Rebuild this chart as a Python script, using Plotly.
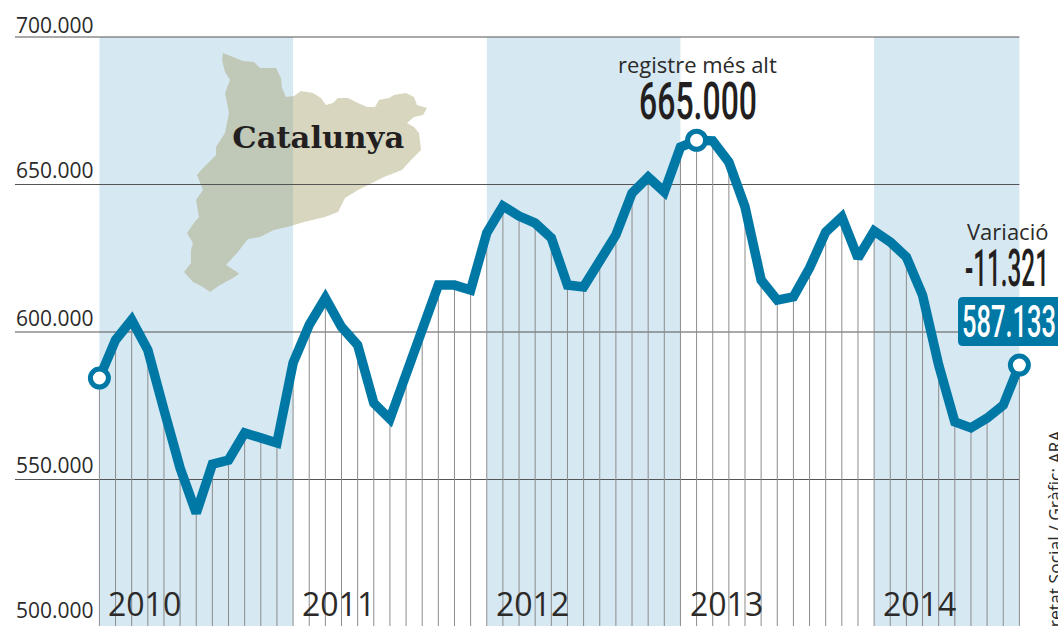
import json
import plotly.graph_objects as go

W, H = 1058, 626
years = ["2010", "2011", "2012", "2013", "2014"]
year_label_index = [0.5, 12.5, 24.5, 36.5, 48.5]
band_spans = [(0, 12), (24, 36), (48, 57)]
y_ticks = [700000, 650000, 600000, 550000, 500000]
y_tick_labels = ["700.000", "650.000", "600.000", "550.000", "500.000"]
y_tick_label_px = [25, 170, 318, 465, 610]
values = [584400, 597300, 604100, 593900, 573600, 553900, 538600, 555200, 556600, 565800,
          564100, 562400, 589500, 602400, 611500, 601700, 595600, 575900, 570500, 586100,
          600700, 615900, 615900, 614200, 633600, 642700, 639300, 636900, 631900, 615900,
          615300, 623400, 632900, 647100, 652500, 647500, 662700, 665000, 664800, 657600,
          642400, 617600, 610800, 611900, 621700, 633900, 639000, 625100, 634200, 630500,
          625400, 612500, 588800, 569500, 567500, 570800, 575200, 588800]
months = list(range(len(values)))
peak_index = 37

map_outline_px = [(223,53),(233,57),(243,61),(254,62),(260,68),(276,68),(281,78),(282,88),(286,97),(294,96),
    (301,91),(313,93),(321,98),(326,105),(333,103),(338,98),(348,98),(358,103),(367,107),(375,107),
    (379,100),(389,98),(394,95),(406,93),(414,97),(417,105),(427,108),(423,115),(414,117),(407,123),
    (414,127),(419,133),(421,150),(411,160),(402,170),(384,177),(372,183),(358,190),(345,198),(338,212),
    (325,217),(304,222),(291,226),(274,230),(260,237),(248,239),(237,253),(226,265),(237,272),(239,274),
    (233,278),(220,285),(210,292),(203,287),(193,282),(184,272),(191,263),(191,250),(193,243),(187,233),
    (194,223),(199,217),(196,200),(203,190),(197,175),(203,168),(216,155),(216,147),(225,133),(229,113),
    (225,93),(230,80),(225,72),(222,60)]

# axes span the whole canvas
X0 = 99.4
DX = 16.14
DY = 147.5 / 50000
x_range = [-X0 / DX, (W - X0) / DX]
y_range = [700000 - (H - 37) / DY, 700000 + 37 / DY]
to_x = lambda px: (px - X0) / DX
to_y = lambda py: 700000 - (py - 37) / DY

BLUE = "#0078a6"
TXT = "#2b2a29"
SANS = "Open Sans"
COND = "Roboto"

fig = go.Figure()
shapes = []
for a, b in band_spans:
    shapes.append(dict(type="rect", layer="below", x0=a, x1=b, y0=y_range[0], y1=700000,
                       fillcolor="#d6e8f2", line_width=0))
path = "M" + "L".join(f"{to_x(x):.3f},{to_y(y):.0f}" for x, y in map_outline_px) + "Z"
shapes.append(dict(type="path", layer="below", path=path, fillcolor="rgba(160,152,97,0.4)", line_width=0))
for t in y_ticks[:-1]:
    shapes.append(dict(type="line", layer="below", x0=to_x(15), x1=57, y0=t, y1=t,
                       line=dict(color="#555555", width=1.2)))
bx0, bx1, by0, by1, r = 958, 1070, 297, 346, 5
fx = lambda v: v / W
fy = lambda v: 1 - v / H
shapes.append(dict(type="path", layer="above", xref="paper", yref="paper", fillcolor=BLUE, line_width=0,
    path=(f"M{fx(bx0+r)},{fy(by0)}L{fx(bx1)},{fy(by0)}L{fx(bx1)},{fy(by1)}L{fx(bx0+r)},{fy(by1)}"
          f"Q{fx(bx0)},{fy(by1)} {fx(bx0)},{fy(by1-r)}L{fx(bx0)},{fy(by0+r)}Q{fx(bx0)},{fy(by0)} {fx(bx0+r)},{fy(by0)}Z")))

drop_x, drop_y = [], []
for m, v in zip(months, values):
    drop_x += [m, m, None]
    drop_y += [y_range[0], v, None]
fig.add_trace(go.Scatter(x=drop_x, y=drop_y, mode="lines", line=dict(color="#8c8c8c", width=1), hoverinfo="skip"))
fig.add_trace(go.Scatter(x=months, y=values, mode="lines", line=dict(color=BLUE, width=9.5, shape="linear"),
                         hoverinfo="skip"))
marker_idx = [0, peak_index, len(values) - 1]
fig.add_trace(go.Scatter(x=marker_idx, y=[values[i] for i in marker_idx], mode="markers",
                         marker=dict(size=18, color="white", line=dict(color=BLUE, width=5)), hoverinfo="skip",
                         cliponaxis=False))

ann = []
def px_text(text, x, y, size, color=TXT, family=SANS, xanchor="left", yanchor="middle", weight=None):
    font = dict(size=size, color=color, family=family)
    if weight:
        font["weight"] = weight
    ann.append(dict(text=text, xref="paper", yref="paper", x=x/W, y=1-y/H, showarrow=False,
                    xanchor=xanchor, yanchor=yanchor, font=font, borderpad=0))

for lab, py in zip(y_tick_labels, y_tick_label_px):
    px_text(lab, 15, py, 21)
for m, yr in zip(year_label_index, years):
    px_text(yr, X0 + m * DX, 603, 32)
px_text("registre més alt", 697.5, 64, 22, xanchor="center")
px_text("665.000", 698, 101, 51, color="#231f20", xanchor="center", family=COND, weight=500)
px_text("Variació", 1007.5, 231, 22, xanchor="center")
px_text("-11.321", 1007, 268, 52, color="#231f20", xanchor="center", family=COND, weight=500)
px_text("587.133", 1009, 321, 45, color="white", xanchor="center", family=COND, weight=500)
px_text("<b>Catalunya</b>", 318, 137, 30, color="#231f20", xanchor="center", family="DejaVu Serif")
ann.append(dict(text="Font: Seguretat Social / Gràfic: ARA", xref="paper", yref="paper", x=1054/W, y=1-428/H,
                showarrow=False, textangle=-90, xanchor="center", yanchor="top",
                font=dict(size=17.5, color=TXT, family=SANS)))

fig.update_layout(width=W, height=H, autosize=False, margin=dict(l=0, r=0, t=0, b=0), showlegend=False,
                  paper_bgcolor="white", plot_bgcolor="white", shapes=shapes, annotations=ann,
                  xaxis=dict(range=x_range, visible=False, fixedrange=True),
                  yaxis=dict(range=y_range, visible=False, fixedrange=True))

fit = {"665.000": 118, "-11.321": 84, "587.133": 94, "Catalunya": 172}
post = ("document.body.style.margin='0';document.body.style.overflow='hidden';"
        "var fit=" + json.dumps(fit) + ";"
        "document.querySelectorAll('.annotation-text').forEach(function(t){var w=fit[t.textContent];"
        "if(w){t.setAttribute('textLength',w);t.setAttribute('lengthAdjust','spacingAndGlyphs');"
        "t.querySelectorAll('tspan').forEach(function(s){s.setAttribute('textLength',w);"
        "s.setAttribute('lengthAdjust','spacingAndGlyphs');});}});")
fig.write_html("out.html", post_script=post, config=dict(displayModeBar=False))
